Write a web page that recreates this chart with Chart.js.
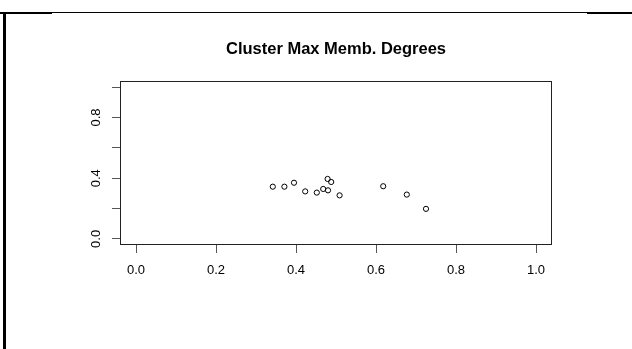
<!DOCTYPE html>
<html>
<head>
<meta charset="utf-8">
<script src="https://cdn.jsdelivr.net/npm/chart.js@4/dist/chart.umd.min.js"></script>
<style>
html,body{margin:0;padding:0;background:#fff;}
canvas{display:block;}
</style>
</head>
<body>
<canvas id="c" width="632" height="349"></canvas>
<script>
// ---- data ----
const titleText = 'Cluster Max Memb. Degrees';
const xValues = [0.342, 0.371, 0.395, 0.423, 0.452, 0.468, 0.480, 0.479, 0.488, 0.509, 0.618, 0.677, 0.725];
const yValues = [0.344, 0.344, 0.370, 0.313, 0.305, 0.329, 0.320, 0.395, 0.375, 0.287, 0.347, 0.292, 0.198];
const xTickValues = [0, 0.2, 0.4, 0.6, 0.8, 1.0];
const xTickLabels = ['0.0', '0.2', '0.4', '0.6', '0.8', '1.0'];
const yTickValues = [0, 0.2, 0.4, 0.6, 0.8, 1.0];
const yTickLabels = ['0.0', '', '0.4', '', '0.8', ''];
const axisMin = -0.04, axisMax = 1.04;

const points = xValues.map((x, i) => ({x: x, y: yValues[i]}));

const FONT = "'Liberation Sans', Arial, sans-serif";

const framePlugin = {
  id: 'frame',
  beforeDraw(chart) {
    const ctx = chart.ctx;
    ctx.save();
    ctx.fillStyle = '#fff';
    ctx.fillRect(0, 0, chart.width, chart.height);
    ctx.restore();
  },
  afterDraw(chart) {
    const ctx = chart.ctx;
    const a = chart.chartArea;
    ctx.save();
    ctx.strokeStyle = '#222';
    ctx.lineWidth = 1;
    ctx.strokeRect(a.left + 0.5, a.top + 0.5, a.right - a.left - 1, a.bottom - a.top - 1);
    ctx.fillStyle = '#000';
    ctx.fillRect(0, 12, 632, 1);
    ctx.fillRect(0, 12, 52, 2);
    ctx.fillRect(587, 12, 45, 2);
    ctx.fillRect(3, 13, 3, 336);
    ctx.restore();
  }
};

new Chart(document.getElementById('c'), {
  type: 'scatter',
  data: {
    datasets: [{
      data: points,
      borderColor: '#000',
      backgroundColor: 'rgba(0,0,0,0)',
      pointBackgroundColor: 'rgba(0,0,0,0)',
      pointBorderColor: '#000',
      pointBorderWidth: 1,
      pointRadius: 2.6,
      pointHoverRadius: 2.6,
      showLine: false
    }]
  },
  options: {
    responsive: false,
    animation: false,
    events: [],
    layout: {padding: {left: 0, right: 80, top: 0, bottom: 0}},
    plugins: {
      legend: {display: false},
      tooltip: {enabled: false},
      title: {
        display: true,
        text: titleText,
        fullSize: false,
        color: '#000',
        font: {family: FONT, size: 16.5, weight: 'bold', lineHeight: 1.2},
        padding: {top: 39.1, bottom: 22.1}
      }
    },
    scales: {
      x: {
        type: 'linear',
        position: 'bottom',
        min: axisMin,
        max: axisMax,
        afterBuildTicks(scale) { scale.ticks = xTickValues.map(v => ({value: v})); },
        afterFit(scale) { scale.height = 104; },
        border: {display: false},
        grid: {display: true, drawOnChartArea: false, drawTicks: true, tickLength: 8, color: '#555', lineWidth: 1},
        ticks: {
          autoSkip: false,
          maxRotation: 0,
          minRotation: 0,
          padding: 9.2,
          color: '#000',
          font: {family: FONT, size: 13},
          callback(value) { const i = xTickValues.indexOf(value); return i >= 0 ? xTickLabels[i] : ''; }
        }
      },
      y: {
        type: 'linear',
        position: 'left',
        min: axisMin,
        max: axisMax,
        afterBuildTicks(scale) { scale.ticks = yTickValues.map(v => ({value: v})); },
        afterFit(scale) { scale.width = 120; },
        border: {display: false},
        grid: {display: true, drawOnChartArea: false, drawTicks: true, tickLength: 8, color: '#555', lineWidth: 1},
        ticks: {
          autoSkip: false,
          minRotation: 90,
          maxRotation: 90,
          crossAlign: 'center',
          padding: 7,
          color: '#000',
          font: {family: FONT, size: 13},
          callback(value) { const i = yTickValues.indexOf(value); return i >= 0 ? yTickLabels[i] : ''; }
        }
      }
    }
  },
  plugins: [framePlugin]
});
</script>
</body>
</html>
